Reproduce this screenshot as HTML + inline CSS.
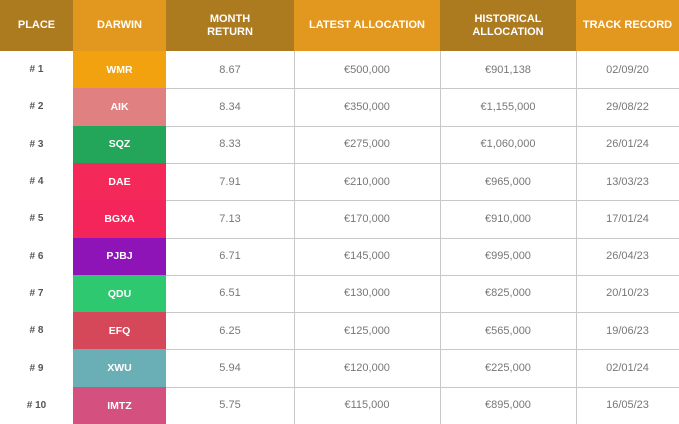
<!DOCTYPE html>
<html><head><style>
*{margin:0;padding:0;box-sizing:border-box}
body{width:679px;height:424px;overflow:hidden;background:#fff;font-family:"Liberation Sans",sans-serif;position:relative}
.c{position:absolute;display:flex;align-items:center;justify-content:center;text-align:center}
.h{color:#fff;font-weight:bold;font-size:11px;line-height:13px;top:0;height:51px}
.d{color:#fff;font-weight:bold;font-size:10.5px}
.t{color:#777;font-size:11px}
.p{color:#555;font-weight:bold;font-size:10px}
.hl{position:absolute;left:166px;width:513px;height:1px;background:#c8c8c8}
.vl{position:absolute;top:51px;height:373px;width:1px;background:#c8c8c8}
</style></head><body>
<div class="c h" style="left:0;width:73px;background:#ac7a1f">PLACE</div>
<div class="c h" style="left:73px;width:93px;background:#e2981f">DARWIN</div>
<div class="c h" style="left:166px;width:128px;background:#ac7a1f">MONTH<br>RETURN</div>
<div class="c h" style="left:294px;width:146px;background:#e2981f">LATEST ALLOCATION</div>
<div class="c h" style="left:440px;width:136px;background:#ac7a1f">HISTORICAL<br>ALLOCATION</div>
<div class="c h" style="left:576px;width:103px;background:#e2981f">TRACK RECORD</div>
<div class="vl" style="left:294px"></div>
<div class="vl" style="left:440px"></div>
<div class="vl" style="left:576px"></div>
<div id="rows"></div>
<script>
var d=[["WMR","#f2a10f","8.67","€500,000","€901,138","02/09/20"],
["AIK","#e08080","8.34","€350,000","€1,155,000","29/08/22"],
["SQZ","#23a65a","8.33","€275,000","€1,060,000","26/01/24"],
["DAE","#f5285a","7.91","€210,000","€965,000","13/03/23"],
["BGXA","#f4255a","7.13","€170,000","€910,000","17/01/24"],
["PJBJ","#8e14b8","6.71","€145,000","€995,000","26/04/23"],
["QDU","#2ec870","6.51","€130,000","€825,000","20/10/23"],
["EFQ","#d4485a","6.25","€125,000","€565,000","19/06/23"],
["XWU","#6aaeb6","5.94","€120,000","€225,000","02/01/24"],
["IMTZ","#d4507e","5.75","€115,000","€895,000","16/05/23"]];
var h="",rh=37.3;
d.forEach(function(r,i){var y=51+i*rh;
h+='<div class="c p" style="left:0;width:73px;top:'+y+'px;height:'+rh+'px">#&nbsp;'+(i+1)+'</div>';
h+='<div class="c d" style="left:73px;width:93px;top:'+y+'px;height:'+(rh+0.5)+'px;background:'+r[1]+'">'+r[0]+'</div>';
h+='<div class="c t" style="left:166px;width:128px;top:'+y+'px;height:'+rh+'px">'+r[2]+'</div>';
h+='<div class="c t" style="left:294px;width:146px;top:'+y+'px;height:'+rh+'px">'+r[3]+'</div>';
h+='<div class="c t" style="left:440px;width:136px;top:'+y+'px;height:'+rh+'px">'+r[4]+'</div>';
h+='<div class="c t" style="left:576px;width:103px;top:'+y+'px;height:'+rh+'px">'+r[5]+'</div>';
if(i>0)h+='<div class="hl" style="top:'+Math.round(y)+'px"></div>';});
document.getElementById("rows").innerHTML=h;
</script>
</body></html>
